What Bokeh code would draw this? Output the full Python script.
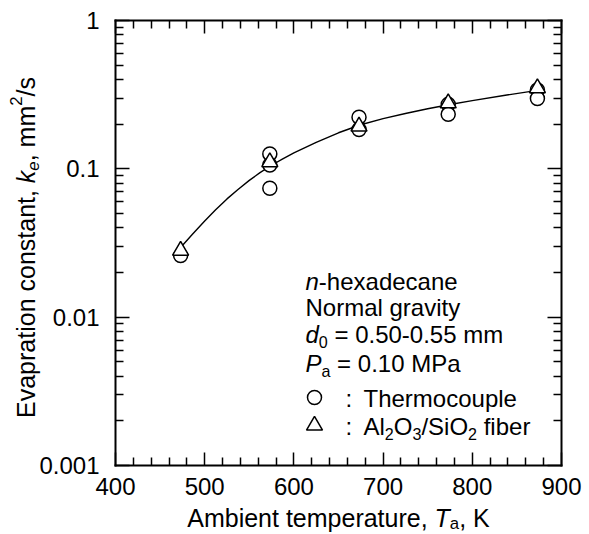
import math
from bokeh.plotting import figure
from bokeh.models import (Range1d, LinearAxis, LogAxis, FixedTicker,
                          CustomJSTickFormatter, Label)
from bokeh.embed import file_html
from bokeh.resources import INLINE

# ---------------- data ----------------
thermo_T = [473, 573, 573, 573, 673, 673, 773, 773, 873, 873]
thermo_k = [0.026, 0.126, 0.106, 0.074, 0.223, 0.184, 0.272, 0.233, 0.340, 0.298]

fiber_T = [473, 573, 673, 773, 873]
fiber_k = [0.0281, 0.111, 0.193, 0.277, 0.350]

fit_T = [473, 486, 500, 512, 525, 537, 550, 562, 575, 587, 600, 625, 650, 675,
         700, 725, 750, 775, 800, 837, 873]
fit_k = [0.0295, 0.0361, 0.0445, 0.0527, 0.0627, 0.0723, 0.0836, 0.0942, 0.1057,
         0.1161, 0.1282, 0.1507, 0.1750, 0.1982, 0.2178, 0.2360, 0.2541, 0.2716,
         0.2884, 0.3133, 0.3381]

x_ticks = [400, 500, 600, 700, 800, 900]
x_tick_labels = ["400", "500", "600", "700", "800", "900"]
y_ticks = [0.001, 0.01, 0.1, 1]
y_tick_labels = ["0.001", "0.01", "0.1", "1"]

# ---------------- layout ----------------
W, H = 589, 534
FL, FR, FT, FB = 115, 561, 20, 465      # pixel box of the plotting area
X0, X1 = 400, 900
YD0, YD1 = -3, 0
FONT = "Liberation Sans"


def dx(px):
    return X0 + (px - FL) * (X1 - X0) / (FR - FL)


def dy(py):
    return 10 ** (YD1 - (py - FT) * (YD1 - YD0) / (FB - FT))


# the frame covers the whole canvas; the axes are pinned to the box edges
p = figure(width=W, height=H, x_range=Range1d(dx(0), dx(W)),
           y_range=Range1d(dy(H), dy(0)), y_axis_type="log",
           output_backend="svg", toolbar_location=None, min_border=0)
p.min_border_left = p.min_border_right = p.min_border_top = p.min_border_bottom = 0
p.background_fill_color = "white"
p.border_fill_color = "white"
p.outline_line_color = None
p.xgrid.visible = False
p.ygrid.visible = False

fmt_code = """
for (let i = 0; i < vals.length; i++) {
  if (Math.abs(vals[i] - tick) <= 1e-6 * Math.abs(vals[i])) return labs[i];
}
return "";
"""
x_minor = [v for v in range(400, 901, 20) if v % 100]
y_minor = [m * 10.0 ** e for e in (-3, -2, -1) for m in range(2, 10)]


def style_axis(ax, tick_in, minor_in, labels=True):
    ax.axis_line_width = 2
    ax.axis_line_color = "black"
    ax.axis_line_cap = "square"
    ax.major_tick_in = tick_in
    ax.major_tick_out = 0
    ax.minor_tick_in = minor_in
    ax.minor_tick_out = 0
    ax.major_tick_line_width = 1.5
    ax.minor_tick_line_width = 1.5
    ax.major_tick_line_color = "black"
    ax.minor_tick_line_color = "black"
    ax.major_label_text_font = FONT
    ax.major_label_text_color = "black"
    if labels:
        ax.major_label_text_font_size = "24px"
    else:
        ax.major_label_text_font_size = "1px"
        ax.major_label_standoff = 0
        ax.formatter = CustomJSTickFormatter(code="return '';")


xb = p.xaxis[0]
xb.ticker = FixedTicker(ticks=x_ticks, minor_ticks=x_minor)
xb.formatter = CustomJSTickFormatter(args=dict(vals=x_ticks, labs=x_tick_labels), code=fmt_code)
style_axis(xb, 13, 8)
xb.major_label_standoff = 12
xb.fixed_location = 10 ** YD0
xb.bounds = (X0, X1)

yl = p.yaxis[0]
yl.ticker = FixedTicker(ticks=y_ticks, minor_ticks=y_minor)
yl.formatter = CustomJSTickFormatter(args=dict(vals=y_ticks, labs=y_tick_labels), code=fmt_code)
style_axis(yl, 14, 8)
yl.major_label_standoff = 16
yl.fixed_location = X0
yl.bounds = (10 ** YD0, 10 ** YD1)

xt = LinearAxis(ticker=FixedTicker(ticks=x_ticks, minor_ticks=x_minor))
style_axis(xt, 13, 8, labels=False)
xt.fixed_location = 10 ** YD1
xt.bounds = (X0, X1)
p.add_layout(xt, "above")

yr = LogAxis(ticker=FixedTicker(ticks=y_ticks, minor_ticks=y_minor))
style_axis(yr, 14, 8, labels=False)
yr.fixed_location = X1
yr.bounds = (10 ** YD0, 10 ** YD1)
p.add_layout(yr, "right")

# ---------------- data glyphs ----------------
p.line(fit_T, fit_k, line_color="black", line_width=1.4)
p.scatter(thermo_T, thermo_k, marker="circle", size=14, fill_color="white",
          line_color="black", line_width=1.5)
p.scatter(fiber_T, fiber_k, marker="triangle", size=16, fill_color="white",
          line_color="black", line_width=1.5)

# ---------------- text helpers (canvas pixels) ----------------
AW = {' ': .278, ',': .278, '.': .278, '-': .333, '=': .584, '/': .278, ':': .278,
      'a': .556, 'b': .556, 'c': .5, 'd': .556, 'e': .556, 'f': .278, 'g': .556,
      'h': .556, 'i': .222, 'k': .5, 'l': .222, 'm': .833, 'n': .556, 'o': .556,
      'p': .556, 'r': .333, 's': .5, 't': .278, 'u': .556, 'v': .5, 'x': .5, 'y': .5,
      'A': .667, 'E': .667, 'K': .667, 'M': .833, 'N': .722, 'O': .778, 'P': .667,
      'S': .667, 'T': .611}


def tw(s, fs):
    return sum(AW.get(c, .556) for c in s) * fs


def run(px, py, pieces, size, vertical=False, sub_shift=0.30):
    pos = px if not vertical else py
    for text, kind in pieces:
        small = kind in ("sub", "sup", "isub")
        fs = size * 0.67 if small else size
        shift = 0.0
        if kind in ("sub", "isub"):
            shift = size * sub_shift
        elif kind == "sup":
            shift = -size * 0.40
        style = "italic" if kind in ("i", "isub") else "normal"
        lead = len(text) - len(text.lstrip(" "))
        body = text.strip(" ")
        off = tw(" " * lead, fs)
        if vertical:
            x, y = px + shift, pos - off
        else:
            x, y = pos + off, py + shift
        if body:
            p.add_layout(Label(x=x, y=y, x_units="canvas", y_units="canvas",
                               text=body, text_font=FONT,
                               text_font_size=f"{fs:.1f}px",
                               text_font_style=style, text_color="black",
                               text_align="left", text_baseline="alphabetic",
                               angle=(math.pi / 2 if vertical else 0)))
        if vertical:
            pos -= tw(text, fs)
        else:
            pos += tw(text, fs)
    return pos


# axis titles
TS = 25
xt_pieces = [("Ambient temperature, ", "n"), ("T", "i"), ("a", "sub"), (", K", "n")]
xt_w = sum(tw(t, TS * (0.67 if k in ("sub", "sup", "isub") else 1)) for t, k in xt_pieces)
run((FL + FR) / 2 - xt_w / 2, 517, xt_pieces, TS, sub_shift=0.24)

yt_pieces = [("Evapration constant, ", "n"), ("k", "i"), ("e", "isub"),
             (", mm", "n"), ("2", "sup"), ("/s", "n")]
yt_w = sum(tw(t, TS * (0.67 if k in ("sub", "sup", "isub") else 1)) for t, k in yt_pieces)
run(25, 247 + yt_w / 2, yt_pieces, TS, vertical=True)

# annotation block
LS = 24
run(305, 281, [("n", "i"), ("-hexadecane", "n")], LS)
run(305, 307, [("Normal gravity", "n")], LS)
run(305, 334, [("d", "i"), ("0", "sub"), (" = 0.50-0.55 mm", "n")], LS)
run(305, 363, [("P", "i"), ("a", "sub"), (" = 0.10 MPa", "n")], LS)
run(345, 398, [(":", "n")], LS)
run(363, 398, [("Thermocouple", "n")], LS)
run(345, 426, [(":", "n")], LS)
run(363, 426, [("Al", "n"), ("2", "sub"), ("O", "n"), ("3", "sub"), ("/SiO", "n"),
               ("2", "sub"), (" fiber", "n")], LS)

# legend keys
p.scatter([dx(314)], [dy(397)], marker="circle", size=14, fill_color="white",
          line_color="black", line_width=1.5)
p.scatter([dx(314)], [dy(425)], marker="triangle", size=16, fill_color="white",
          line_color="black", line_width=1.5)

open("out.html", "w").write(file_html(p, INLINE))
